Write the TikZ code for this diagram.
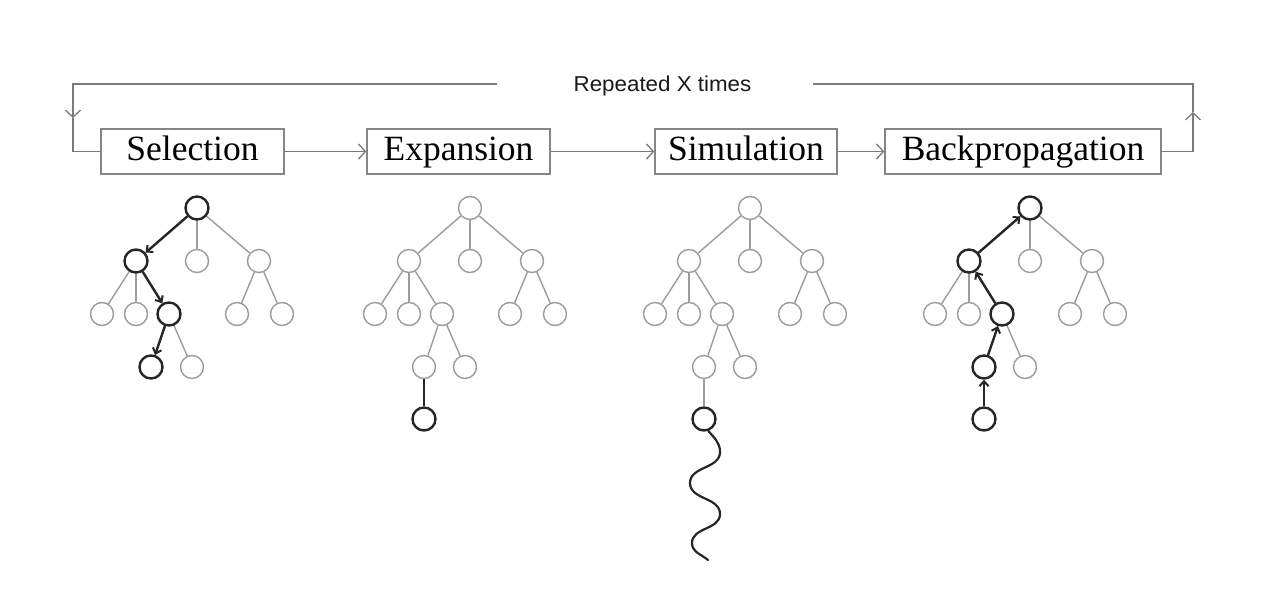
\documentclass[tikz,border=0pt]{standalone}
\usepackage{fontspec}
\setmainfont{Liberation Serif}
\newfontfamily\labelsans[FakeStretch=1.04]{Liberation Sans}
\usetikzlibrary{arrows.meta}
\definecolor{gcol}{HTML}{9C9C9C}
\definecolor{bcol}{HTML}{262626}
\definecolor{boxcol}{HTML}{858585}
\definecolor{linecol}{HTML}{7A7A7A}
\newcommand\mytree[2]{%
  \node[gnode] (#1r) at (#2,208) {};
  \node[gnode] (#1a) at (#2-61,261) {};
  \node[gnode] (#1b) at (#2,261) {};
  \node[gnode] (#1c) at (#2+62,261) {};
  \node[gnode] (#1aa) at (#2-95,314) {};
  \node[gnode] (#1ab) at (#2-61,314) {};
  \node[gnode] (#1ac) at (#2-28,314) {};
  \node[gnode] (#1ca) at (#2+40,314) {};
  \node[gnode] (#1cb) at (#2+85,314) {};
  \node[gnode] (#1aca) at (#2-46,367) {};
  \node[gnode] (#1acb) at (#2-5,367) {};
  \draw[gedge] (#1r) -- (#1a);
  \draw[gedge] (#1r) -- (#1b);
  \draw[gedge] (#1r) -- (#1c);
  \draw[gedge] (#1a) -- (#1aa);
  \draw[gedge] (#1a) -- (#1ab);
  \draw[gedge] (#1a) -- (#1ac);
  \draw[gedge] (#1c) -- (#1ca);
  \draw[gedge] (#1c) -- (#1cb);
  \draw[gedge] (#1ac) -- (#1aca);
  \draw[gedge] (#1ac) -- (#1acb);
}
\begin{document}
\begin{tikzpicture}[x=1pt,y=-1pt,
  gnode/.style={circle,draw=gcol,line width=1.4pt,minimum size=23pt,inner sep=0pt},
  bnode/.style={circle,draw=bcol,line width=2.4pt,minimum size=23pt,inner sep=0pt},
  gedge/.style={draw=gcol,line width=1.4pt},
  bedge/.style={draw=bcol,line width=2.4pt},
  barrow/.style={bedge,-{Straight Barb[length=5pt,width=9pt,line width=2pt]}},
  stage/.style={draw=boxcol,line width=1.3pt,minimum height=45pt,inner sep=0pt,
    text height=25pt,text depth=7pt,font=\fontsize{35.5}{40}\selectfont},
  flow/.style={draw=linecol,line width=1.3pt,-{Straight Barb[length=7pt,width=15pt,line width=1.3pt]}},
  loopline/.style={draw=linecol,line width=1.3pt},
]
\useasboundingbox (0,0) rectangle (1275,604);
\fill[white] (0,0) rectangle (1275,604);

% stage boxes
\node[stage,minimum width=183pt] (sel) at (192.5,151.5) {Selection};
\node[stage,minimum width=183pt] (exp) at (458.5,151.5) {Expansion};
\node[stage,minimum width=182pt] (sim) at (746,151.5) {Simulation};
\node[stage,minimum width=276pt] (back) at (1023,151.5) {Backpropagation};

\draw[flow] (sel) -- (exp);
\draw[flow] (exp) -- (sim);
\draw[flow] (sim) -- (back);

% repeat loop
\node[anchor=base,inner sep=0pt,font=\labelsans\fontsize{21.5}{24}\selectfont,text=black!90] (rep) at (662.5,92) {Repeated X times};
\coordinate (rmid) at (1193,112);
\coordinate (rgap) at (813,84);
\coordinate (lgap) at (497,84);
\coordinate (lmid) at (73,118);
\draw[flow] (back.east) -| (rmid);
\draw[loopline] (rmid) |- (rgap);
\draw[flow] (lgap) -| (lmid);
\draw[loopline] (lmid) |- (sel.west);

% trees
\mytree{s}{197}
\mytree{e}{470}
\mytree{m}{750}
\mytree{b}{1030}

% Selection path
\node[bnode] (sB1) at (sr) {};
\node[bnode] (sB2) at (sa) {};
\node[bnode] (sB3) at (sac) {};
\node[bnode] (sB4) at (saca) {};
\draw[barrow] (sB1) -- (sB2);
\draw[barrow] (sB2) -- (sB3);
\draw[barrow] (sB3) -- (sB4);

% Expansion
\node[bnode] (ed) at (424,419) {};
\draw[bedge] (eaca) -- (ed);

% Simulation
\node[bnode] (md) at (704,419) {};
\draw[gedge] (maca) -- (md);
\draw[bcol,line width=2.2pt,line cap=round] (md.-70) to[out=-50,in=90] (720,452)
  to[out=-90,in=90] (690,483) to[out=-90,in=90] (720,514)
  to[out=-90,in=90] (692,543) to[out=-90,in=140] (708,560);

% Backpropagation
\node[bnode] (bd) at (984,419) {};
\node[bnode] (bB1) at (br) {};
\node[bnode] (bB2) at (ba) {};
\node[bnode] (bB3) at (bac) {};
\node[bnode] (bB4) at (baca) {};
\draw[barrow] (bd) -- (bB4);
\draw[barrow] (bB4) -- (bB3);
\draw[barrow] (bB3) -- (bB2);
\draw[barrow] (bB2) -- (bB1);
\end{tikzpicture}
\end{document}
